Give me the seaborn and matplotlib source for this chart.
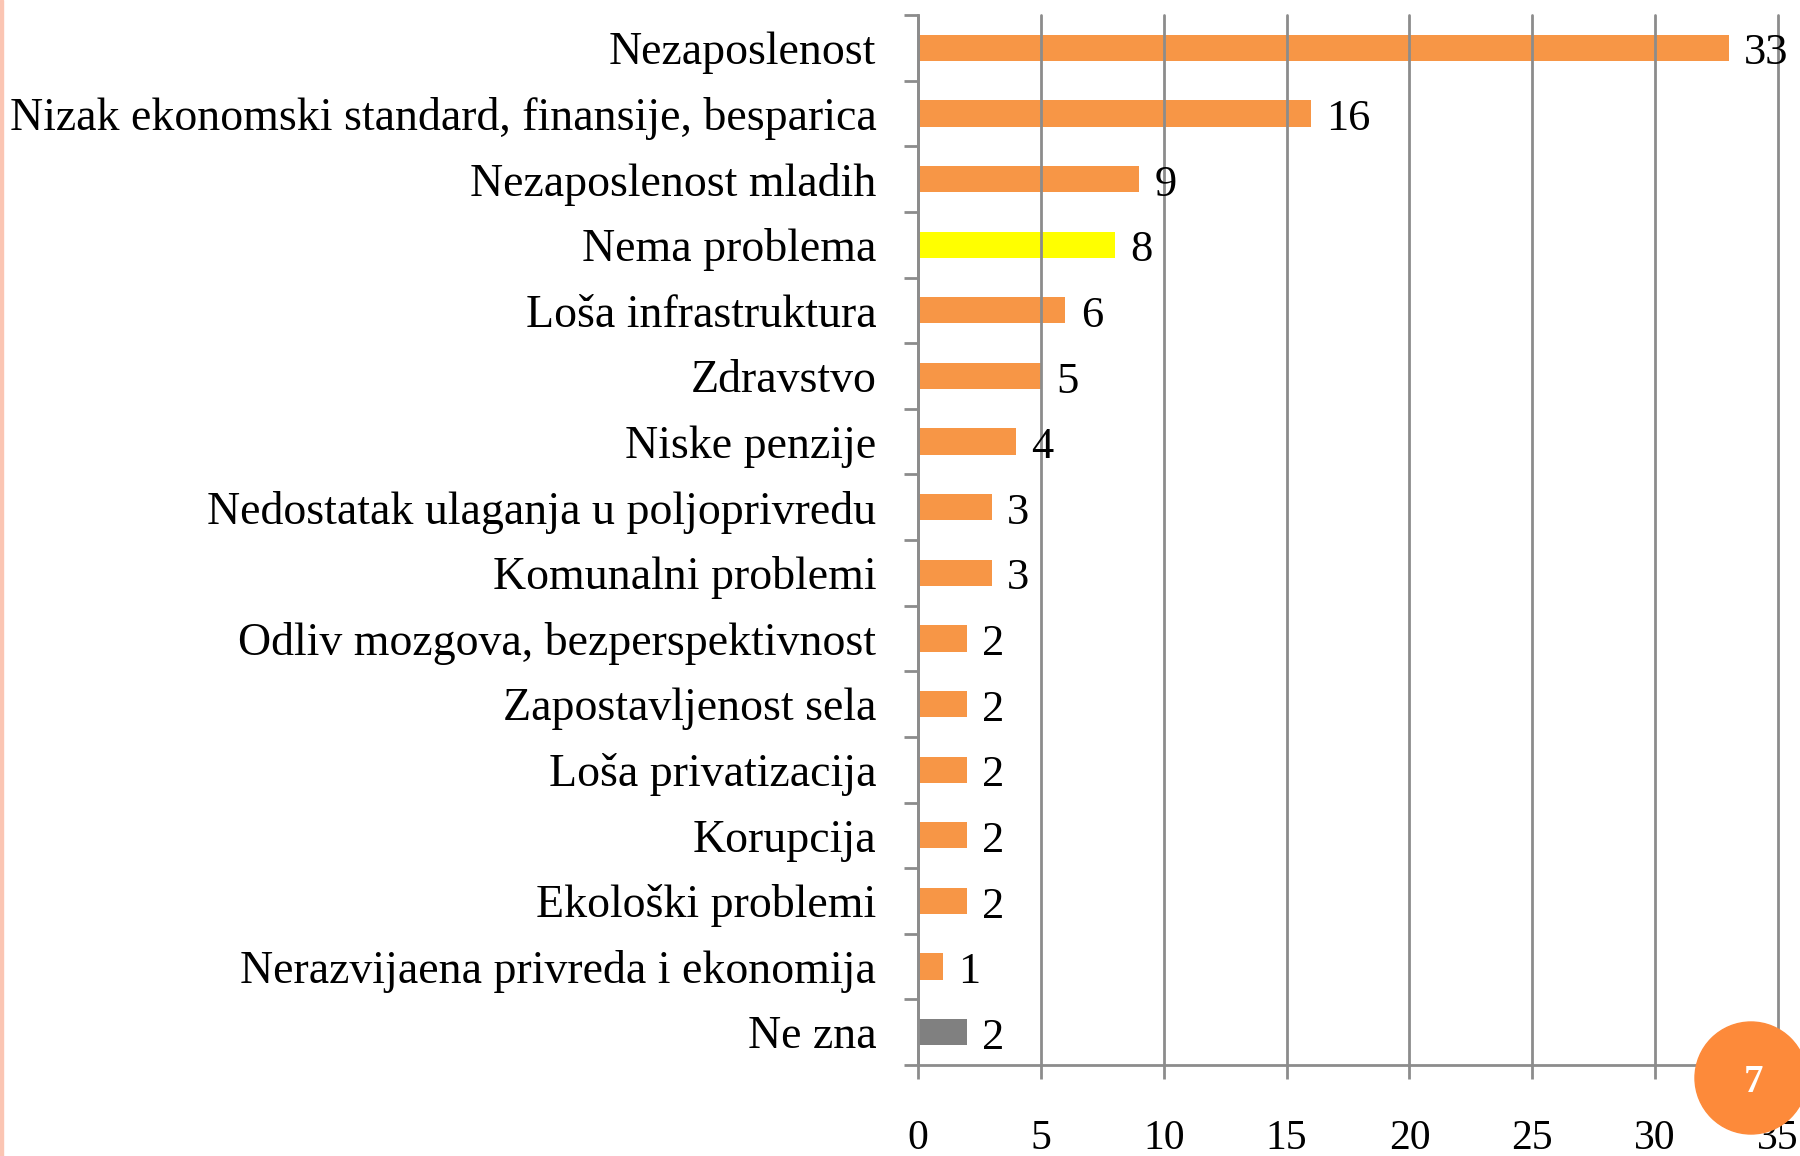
import matplotlib
matplotlib.use("Agg")
import matplotlib.pyplot as plt
from matplotlib.patches import Ellipse, Rectangle
import pandas as pd
import seaborn as sns

# Data
categories = [
    "Nezaposlenost",
    "Nizak ekonomski standard, finansije, besparica",
    "Nezaposlenost mladih",
    "Nema problema",
    "Loša infrastruktura",
    "Zdravstvo",
    "Niske penzije",
    "Nedostatak ulaganja u poljoprivredu",
    "Komunalni problemi",
    "Odliv mozgova, bezperspektivnost",
    "Zapostavljenost sela",
    "Loša privatizacija",
    "Korupcija",
    "Ekološki problemi",
    "Nerazvijaena privreda i ekonomija",
    "Ne zna",
]
values = [33, 16, 9, 8, 6, 5, 4, 3, 3, 2, 2, 2, 2, 2, 1, 2]
x_ticks = [0, 5, 10, 15, 20, 25, 30, 35]
page_number = "7"

ORANGE = "#F79646"
colors = {c: ORANGE for c in categories}
colors["Nema problema"] = "#FFFF00"
colors["Ne zna"] = "#808080"
GRID = "#8C8C8C"

sns.set_theme(style="white")
plt.rcParams["font.family"] = ["Liberation Serif", "DejaVu Serif"]
plt.rcParams["text.color"] = "black"
plt.rcParams["xtick.color"] = "black"
plt.rcParams["ytick.color"] = "black"

df = pd.DataFrame({"category": categories, "value": values})

fig = plt.figure(figsize=(18, 11.56), dpi=100)
ax = fig.add_axes([0.510, 0.0787, 0.4778, 0.9083])

sns.barplot(data=df, x="value", y="category", hue="category", palette=colors,
            order=categories, orient="h", width=0.4, saturation=1, legend=False,
            linewidth=0, ax=ax, zorder=1)

ax.set_xlim(0, 35)
ax.set_ylim(len(categories) - 0.5, -0.5)
ax.set_xticks(x_ticks)
ax.set_xticklabels([str(t) for t in x_ticks], fontsize=30, color="black")
ax.set_yticks(range(len(categories)))
ax.set_yticklabels(categories, fontsize=33, color="black")
ax.set_xlabel("")
ax.set_ylabel("")

# category boundaries get the tick marks
ax.set_yticks([i - 0.5 for i in range(len(categories) + 1)], minor=True)
ax.tick_params(axis="y", which="major", length=0, pad=30)
ax.tick_params(axis="y", which="minor", length=10, width=2, color=GRID, left=True)
ax.tick_params(axis="x", which="major", length=10, width=2, color=GRID,
               bottom=True, pad=29)

ax.grid(axis="x", color=GRID, linewidth=2)
ax.set_axisbelow(False)
for line in ax.get_xgridlines():
    line.set_clip_on(False)
for side in ["top", "right"]:
    ax.spines[side].set_visible(False)
for side in ["left", "bottom"]:
    ax.spines[side].set_color(GRID)
    ax.spines[side].set_linewidth(2)

# value labels
for i, v in enumerate(values):
    ax.annotate(str(v), (v, i), xytext=(11, -4), textcoords="offset points",
                ha="left", va="center", fontsize=32, color="black", zorder=4)

# left page strip and page number bubble
fig.add_artist(Rectangle((0, 0), 3 / 1800, 1, transform=fig.transFigure,
                         color="#FBC5B3", zorder=0))
fig.add_artist(Ellipse((1751 / 1800, 1 - 1078 / 1156), 112 / 1800, 112 / 1156,
                       transform=fig.transFigure, color="#FD8A3A", zorder=5))
fig.text(1753 / 1800, 1 - 1082 / 1156, page_number, color="white",
         fontsize=28, fontweight="bold", ha="center", va="center", zorder=6)

fig.savefig("out.png", dpi=100)
